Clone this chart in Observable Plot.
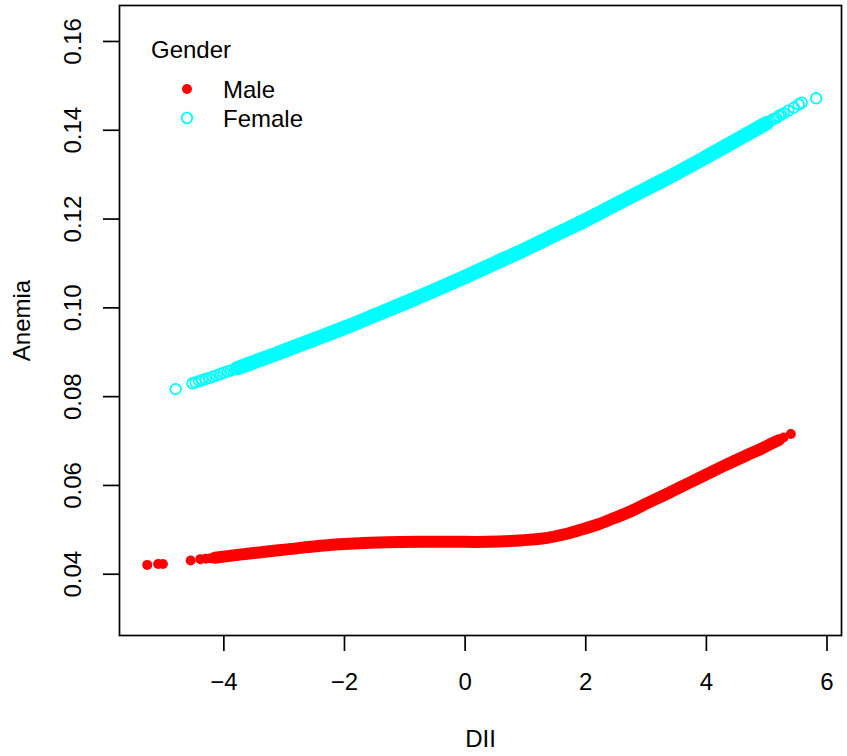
<!DOCTYPE html>
<html>
<head>
<meta charset="utf-8">
<script src="https://cdn.jsdelivr.net/npm/d3@7"></script>
<script src="https://cdn.jsdelivr.net/npm/@observablehq/plot@0.6"></script>
<style>
  body { margin: 0; background: #fff; }
  #chart { position: relative; width: 847px; height: 756px; }
</style>
</head>
<body>
<div id="chart"></div>
<script>
// ---- data ----
const maleBandX = [-4.15, -3.5, -2.95, -2.4, -1.85, -1.3, -0.74, -0.2, 0.36, 0.9, 1.36, 1.65, 1.91, 2.2, 2.46, 2.75, 3.02, 3.3, 3.57, 3.85, 4.12, 4.4, 4.67, 4.9, 5.06, 5.2];
const maleBandY = [0.0437, 0.0448, 0.0456, 0.0464, 0.0469, 0.0472, 0.0473, 0.0473, 0.0473, 0.0476, 0.0482, 0.0490, 0.0500, 0.0512, 0.0526, 0.0542, 0.0560, 0.0578, 0.0596, 0.0615, 0.0633, 0.0651, 0.0668, 0.0682, 0.0693, 0.0702];
const maleDotX = [-5.27, -5.09, -5.01, -4.55, -4.39, -4.30, -4.22, -4.15, 5.11, 5.20, 5.28, 5.40];
const maleDotY = [0.0421, 0.0423, 0.0423, 0.0431, 0.0434, 0.0435, 0.0436, 0.0437, 0.0697, 0.0703, 0.0708, 0.0716];

const femaleBandX = [-3.78, -3.5, -3.0, -2.5, -2.0, -1.5, -1.0, -0.5, 0, 0.5, 1.0, 1.5, 2.0, 2.5, 3.0, 3.5, 4.0, 4.5, 5.0];
const femaleBandY = [0.0864, 0.0878, 0.0903, 0.0929, 0.0955, 0.0983, 0.1011, 0.1040, 0.1070, 0.1101, 0.1132, 0.1165, 0.1198, 0.1233, 0.1268, 0.1303, 0.1340, 0.1378, 0.1416];
const femaleDotX = [-4.80, -4.52, -4.47, -4.41, -4.36, -4.30, -4.24, -4.18, -4.12, -4.06, -4.00, -3.94, -3.88, -3.82, 5.05, 5.11, 5.16, 5.20, 5.24, 5.28, 5.36, 5.45, 5.53, 5.58, 5.82];
const femaleDotY = [0.0817, 0.0830, 0.0832, 0.0835, 0.0837, 0.0840, 0.0842, 0.0845, 0.0848, 0.0851, 0.0854, 0.0857, 0.0859, 0.0862, 0.1420, 0.1425, 0.1428, 0.1432, 0.1435, 0.1438, 0.1444, 0.1451, 0.1458, 0.1462, 0.1472];

const xTicks = [-4, -2, 0, 2, 4, 6];
const yTicks = [0.04, 0.06, 0.08, 0.10, 0.12, 0.14, 0.16];
const xLabel = "DII";
const yLabel = "Anemia";
const legendTitle = "Gender";
const groups = ["Male", "Female"];
const groupColors = ["#FF0000", "#00FFFF"];

// ---- tables built from arrays ----
const maleBand = maleBandX.map((x, i) => ({x, y: maleBandY[i]}));
const maleDots = maleDotX.map((x, i) => ({x, y: maleDotY[i]}));
const femaleBand = femaleBandX.map((x, i) => ({x, y: femaleBandY[i]}));
const femaleDots = femaleDotX.map((x, i) => ({x, y: femaleDotY[i]}));

const FONT = "'Liberation Sans', Arial, Helvetica, sans-serif";
const FS = 24;

const chart = Plot.plot({
  width: 847,
  height: 756,
  marginLeft: 119,
  marginRight: 6,
  marginTop: 5,
  marginBottom: 121,
  style: {fontFamily: FONT, fontSize: FS + "px", background: "#fff", color: "#000"},
  x: {domain: [-5.73, 6.24]},
  y: {domain: [0.0262, 0.1681]},
  marks: [
    Plot.line(femaleBand, {x: "x", y: "y", stroke: groupColors[1], strokeWidth: 14.5, curve: "catmull-rom", strokeLinecap: "round"}),
    Plot.dot(femaleDots, {x: "x", y: "y", r: 5.3, stroke: groupColors[1], strokeWidth: 1.8, fill: "none"}),
    Plot.line(maleBand, {x: "x", y: "y", stroke: groupColors[0], strokeWidth: 12, curve: "catmull-rom", strokeLinecap: "round"}),
    Plot.dot(maleDots, {x: "x", y: "y", r: 5, fill: groupColors[0], stroke: "none"}),
    Plot.frame({stroke: "#000", strokeWidth: 1.7}),
    Plot.axisX({ticks: xTicks, tickSize: 16, tickPadding: 21, strokeWidth: 1.7, fontSize: FS,
      label: xLabel, labelAnchor: "center", labelArrow: "none", labelOffset: 111}),
    Plot.axisY({ticks: yTicks, tickSize: 16, tickPadding: 23, tickRotate: -90, strokeWidth: 1.7, fontSize: FS,
      tickFormat: d3.format(".2f"),
      label: yLabel, labelAnchor: "center", labelArrow: "none", labelOffset: 107})
  ]
});

document.getElementById("chart").appendChild(chart);

// ---- legend inside the plot (R style, no box) ----
const svg = d3.select(chart);
const lg = svg.append("g")
  .attr("font-family", FONT)
  .attr("font-size", FS)
  .attr("fill", "#000")
  .attr("text-anchor", "start");
lg.append("text").attr("x", 151).attr("y", 58).attr("text-anchor", "start").text(legendTitle);
const rowY = [89, 118];
groups.forEach((g, i) => {
  if (i === 0) {
    lg.append("circle").attr("cx", 187).attr("cy", rowY[i]).attr("r", 5).attr("fill", groupColors[i]);
  } else {
    lg.append("circle").attr("cx", 187).attr("cy", rowY[i]).attr("r", 5.3).attr("fill", "none")
      .attr("stroke", groupColors[i]).attr("stroke-width", 1.8);
  }
  lg.append("text").attr("x", 223).attr("y", rowY[i] + 8.5).attr("text-anchor", "start").text(g);
});
</script>
</body>
</html>
